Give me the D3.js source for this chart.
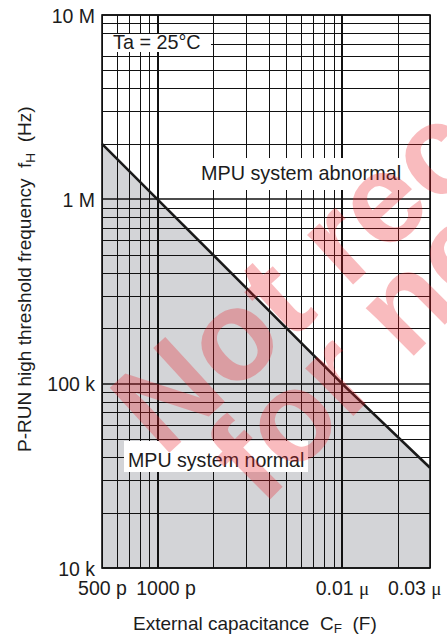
<!DOCTYPE html>
<html>
<head>
<meta charset="utf-8">
<script src="https://cdn.jsdelivr.net/npm/d3@7/dist/d3.min.js"></script>
<style>
  html, body { margin: 0; padding: 0; background: #fff; }
  svg { display: block; }
  text { font-family: "Liberation Sans", Arial, Helvetica, sans-serif; fill: #1c1c1c; }
</style>
</head>
<body>
<div id="chart"></div>
<script>
// Axis ranges (capacitance in farads, frequency in hertz)
const capDomain = [5e-10, 3e-8];
const freqDomain = [1e4, 1e7];

// Tick labels
const capTickValues = [5e-10, 1e-9, 1e-8, 3e-8];
const capTickLabels = ["500 p", "1000 p", "0.01 μ", "0.03 μ"];
const freqTickValues = [1e4, 1e5, 1e6, 1e7];
const freqTickLabels = ["10 k", "100 k", "1 M", "10 M"];

// Threshold boundary: external capacitance vs. P-RUN high threshold frequency
const boundaryCap = [5e-10, 1e-9, 1e-8, 3e-8];
const boundaryFreq = [2.0e6, 1.0e6, 1.0e5, 3.5e4];

const W = 447, H = 636;
const plot = { left: 102, right: 430, top: 15, bottom: 568 };

const svg = d3.select("#chart").append("svg")
  .attr("width", W).attr("height", H);

const x = d3.scaleLog().domain(capDomain).range([plot.left, plot.right]);
const y = d3.scaleLog().domain(freqDomain).range([plot.bottom, plot.top]);

// Shaded "normal" region below the boundary
const pts = boundaryCap.map((c, i) => [c, boundaryFreq[i]]);
const area = d3.area()
  .x(d => x(d[0]))
  .y0(y(freqDomain[0]))
  .y1(d => y(d[1]));
svg.append("path").datum(pts)
  .attr("d", area)
  .attr("fill", "#d3d4d7");

// Log grid
const isDecade = v => Math.abs(Math.log10(v) - Math.round(Math.log10(v))) < 1e-6;
const grid = svg.append("g").attr("stroke", "#111").attr("fill", "none");
x.ticks().forEach(v => {
  const major = isDecade(v);
  const px = major ? Math.round(x(v)) : Math.round(x(v)) + 0.5;
  grid.append("line")
    .attr("x1", px).attr("x2", px)
    .attr("y1", plot.top).attr("y2", plot.bottom)
    .attr("stroke-width", major ? 2 : 1);
});
y.ticks().forEach(v => {
  const major = isDecade(v);
  const py = major ? Math.round(y(v)) : Math.round(y(v)) + 0.5;
  grid.append("line")
    .attr("x1", plot.left).attr("x2", plot.right)
    .attr("y1", py).attr("y2", py)
    .attr("stroke-width", major ? 1.6 : 1);
});

// Frame
svg.append("rect")
  .attr("x", plot.left).attr("y", plot.top)
  .attr("width", plot.right - plot.left).attr("height", plot.bottom - plot.top)
  .attr("fill", "none").attr("stroke", "#111").attr("stroke-width", 1.6);

// Boundary line
svg.append("path").datum(pts)
  .attr("d", d3.line().x(d => x(d[0])).y(d => y(d[1])))
  .attr("fill", "none").attr("stroke", "#1a1a1a").attr("stroke-width", 2.6);

// Boxed annotations
function boxedLabel(txt, tx, ty, size, box) {
  svg.append("rect")
    .attr("x", box[0]).attr("y", box[1]).attr("width", box[2]).attr("height", box[3])
    .attr("fill", "#fff");
  svg.append("text")
    .attr("x", tx).attr("y", ty)
    .style("font-size", size + "px")
    .text(txt);
}
boxedLabel("Ta = 25°C", 113, 49, 19.8, [plot.left + 1, 34, 108, 18]);
boxedLabel("MPU system abnormal", 201, 180, 19.8, [197, 158, 208, 32]);
boxedLabel("MPU system normal", 128, 467, 19.6, [124, 441, 184, 31]);

// Axes (labels only, the grid carries the ticks)
const xAxis = svg.append("g")
  .attr("transform", `translate(0,${plot.bottom})`)
  .call(d3.axisBottom(x).tickValues(capTickValues)
    .tickFormat((d, i) => capTickLabels[i]).tickSize(0).tickPadding(13));
const yAxis = svg.append("g")
  .attr("transform", `translate(${plot.left},0)`)
  .call(d3.axisLeft(y).tickValues(freqTickValues)
    .tickFormat((d, i) => freqTickLabels[i]).tickSize(0).tickPadding(7));
[xAxis, yAxis].forEach(g => {
  g.select(".domain").remove();
  g.selectAll("text").attr("fill", "#1c1c1c")
    .style("font-size", "19.5px")
    .style("font-family", '"Liberation Sans", Arial, sans-serif');
});
yAxis.selectAll("text").attr("dy", "0.36em");
xAxis.selectAll("text").attr("dy", "0.71em");

// Nudge crowded x labels and set the micro sign in a serif face
xAxis.selectAll(".tick text").each(function(d, i) {
  const t = d3.select(this);
  const label = capTickLabels[i];
  if (d === 1e-9) t.attr("dx", 8);
  if (d === 3e-8) t.attr("text-anchor", "end").attr("dx", 11);
  if (label.includes("μ")) {
    t.text(null);
    t.append("tspan").style("white-space", "pre").text(label.replace("μ", ""));
    t.append("tspan").style("font-family", '"Liberation Serif", "DejaVu Serif", serif')
      .style("font-size", "19px").text("μ");
  }
});

// Axis titles
const yTitle = svg.append("text")
  .attr("transform", "translate(31,452) rotate(-90)")
  .style("font-size", "19px").style("white-space", "pre");
yTitle.append("tspan").text("P-RUN high threshold frequency  f");
yTitle.append("tspan").attr("dy", 4).style("font-size", "13.5px").text("H");
yTitle.append("tspan").attr("dy", -4).text("  (Hz)");

const xTitle = svg.append("text")
  .attr("x", 133).attr("y", 630)
  .style("font-size", "19px").style("white-space", "pre");
xTitle.append("tspan").text("External capacitance  C");
xTitle.append("tspan").attr("dy", 3).style("font-size", "13.5px").text("F");
xTitle.append("tspan").attr("dy", -3).text("  (F)");

// Watermark
const wmFill = "rgba(236,30,40,0.30)";
svg.append("g").attr("transform", "translate(238,345) rotate(-42.5)")
  .append("text").attr("x", -132).attr("y", 33)
  .style("font-weight", "bold").style("font-size", "128px")
  .style("fill", wmFill).text("Not recommended");
svg.append("g").attr("transform", "rotate(-45)")
  .append("text").attr("x", -174).attr("y", 544)
  .style("font-weight", "bold").style("font-size", "128px")
  .style("fill", wmFill).text("for new design");
</script>
</body>
</html>
